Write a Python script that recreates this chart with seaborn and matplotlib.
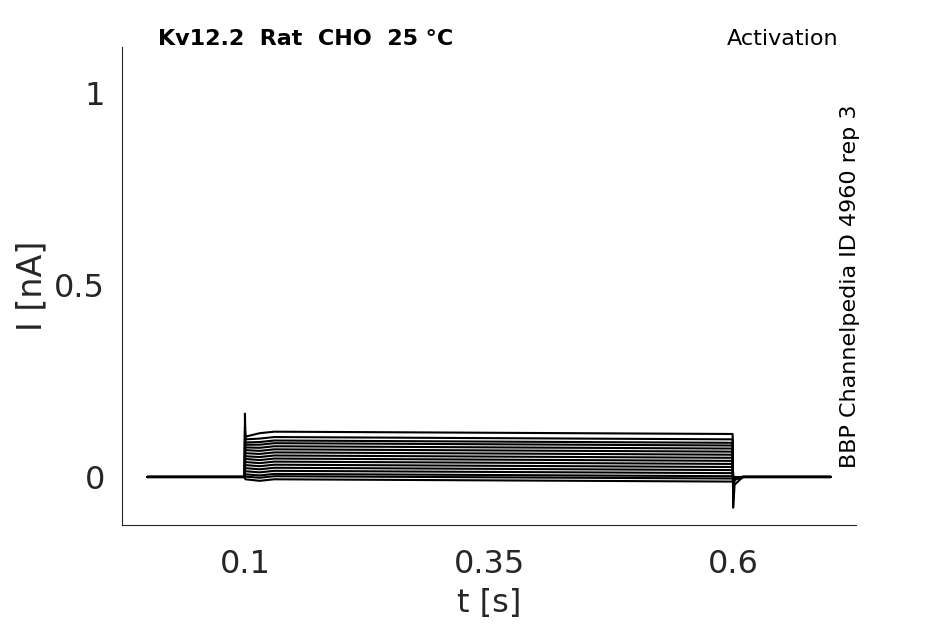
import numpy as np
import pandas as pd
import matplotlib
matplotlib.use("Agg")
import matplotlib.pyplot as plt
import seaborn as sns

# breakpoints of the voltage-step protocol (s)
times = [0.0, 0.0999, 0.1, 0.1005, 0.115, 0.13, 0.5995, 0.6, 0.6015, 0.61, 0.7]

# per trace: steady current during the step (nA)
step_levels = [0.118, 0.104, 0.095, 0.088, 0.080, 0.072, 0.064, 0.056,
               0.048, 0.040, 0.032, 0.024, 0.016, 0.008, 0.002, -0.006]
# onset peak and tail dip (nA)
onset_peaks = [0.165, 0.13, 0.12, 0.11, 0.10, 0.09, 0.08, 0.07,
               0.06, 0.05, 0.04, 0.03, 0.02, 0.012, 0.005, -0.004]
tail_dips = [-0.08, -0.03, -0.025, -0.02, -0.018, -0.015, -0.012, -0.01,
             -0.008, -0.007, -0.006, -0.005, -0.004, -0.003, -0.002, -0.001]
early_levels = [0.105, 0.098, 0.09, 0.084, 0.077, 0.07, 0.062, 0.054,
                0.047, 0.039, 0.031, 0.023, 0.015, 0.007, 0.001, -0.006]

rows = []
for i in range(len(step_levels)):
    vals = [0.0, 0.0, onset_peaks[i], early_levels[i], step_levels[i] - 0.004,
            step_levels[i], step_levels[i] - 0.006, tail_dips[i],
            tail_dips[i] / 4, 0.0, 0.0]
    for t, v in zip(times, vals):
        rows.append({"trace": i, "t": t, "I": v})
df = pd.DataFrame(rows)

sns.set_style("white")
plt.rcParams["font.family"] = ["DejaVu Sans"]

fig = plt.figure(figsize=(9.45, 6.24), dpi=100)
ax = fig.add_axes([0.129, 0.1587, 0.777, 0.766])

sns.lineplot(data=df, x="t", y="I", hue="trace", palette=["black"] * len(step_levels),
             estimator=None, sort=False, legend=False, linewidth=1.5, ax=ax)

ax.set_xlim(-0.026, 0.726)
ax.set_ylim(-0.125, 1.12)
ax.set_xticks([0.1, 0.35, 0.6])
ax.set_xticklabels(["0.1", "0.35", "0.6"])
ax.set_yticks([0, 0.5, 1])
ax.set_yticklabels(["0", "0.5", "1"])
ax.tick_params(direction="in", length=5, width=0.8, labelsize=23, colors="#262626")
ax.tick_params(axis="x", pad=17)
ax.tick_params(axis="y", pad=12)
ax.set_xlabel("t [s]", fontsize=23, color="#262626", labelpad=6)
ax.set_ylabel("I [nA]", fontsize=24, color="#262626", labelpad=4)
for s in ["top", "right"]:
    ax.spines[s].set_visible(False)
for s in ["left", "bottom"]:
    ax.spines[s].set_color("#262626")
    ax.spines[s].set_linewidth(0.8)

fig.text(0.167, 0.938, "Kv12.2  Rat  CHO  25 °C", fontsize=16, fontweight="bold",
         ha="left", va="center", color="black")
fig.text(0.887, 0.938, "Activation", fontsize=16, ha="right", va="center", color="black")
fig.text(0.9, 0.541, "BBP Channelpedia ID 4960 rep 3", fontsize=16, rotation=90,
         ha="center", va="center", color="black")

fig.savefig("out.png", dpi=100)
